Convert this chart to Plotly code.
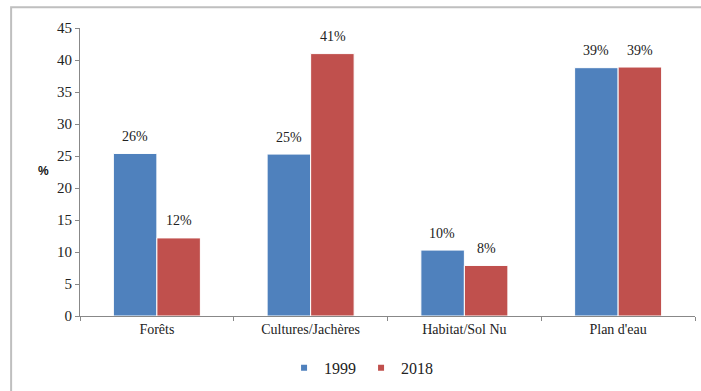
import plotly.graph_objects as go

categories = ["Forêts", "Cultures/Jachères", "Habitat/Sol Nu", "Plan d'eau"]
values_1999 = [25.4, 25.3, 10.3, 38.8]
values_2018 = [12.2, 41.0, 7.9, 38.9]
labels_1999 = ["26%", "25%", "10%", "39%"]
labels_2018 = ["12%", "41%", "8%", "39%"]
y_ticks = [0, 5, 10, 15, 20, 25, 30, 35, 40, 45]
series_names = ["1999", "2018"]

BLUE = "#4F81BD"
RED = "#C0504D"
FONT = "Liberation Serif"

fig = go.Figure()
fig.add_trace(go.Bar(x=categories, y=values_1999, name=series_names[0], showlegend=False,
                     marker=dict(color=BLUE, line=dict(color="white", width=1))))
fig.add_trace(go.Bar(x=categories, y=values_2018, name=series_names[1], showlegend=False,
                     marker=dict(color=RED, line=dict(color="white", width=1))))
# legend entries with small square markers
for nm, col in zip(series_names, [BLUE, RED]):
    fig.add_trace(go.Scatter(x=[None], y=[None], mode="markers", name=nm,
                             marker=dict(symbol="square", size=6, color=col)))

annotations = []
for c, v, t in zip(categories, values_1999, labels_1999):
    annotations.append(dict(x=c, y=v, text=t, xref="x", yref="y", showarrow=False,
                            xshift=-22, yshift=17, font=dict(family=FONT, size=14, color="#222")))
for c, v, t in zip(categories, values_2018, labels_2018):
    annotations.append(dict(x=c, y=v, text=t, xref="x", yref="y", showarrow=False,
                            xshift=22, yshift=17, font=dict(family=FONT, size=14, color="#222")))
annotations.append(dict(x=-0.072, y=0.505, xref="paper", yref="paper", text="<b>%</b>",
                        showarrow=False, font=dict(family="Liberation Sans", size=12, color="#111")))

fig.update_layout(
    width=701, height=391,
    margin=dict(l=80, r=6, t=28, b=72),
    paper_bgcolor="white", plot_bgcolor="white",
    barmode="group", bargap=0.434, bargroupgap=0,
    font=dict(family=FONT, size=14, color="#222"),
    showlegend=True,
    legend=dict(orientation="h", x=0.457, xanchor="center", y=-0.18, yanchor="middle",
                font=dict(family=FONT, size=16, color="#222"), itemwidth=30,
                tracegroupgap=0),
    annotations=annotations,
    shapes=[dict(type="rect", xref="paper", yref="paper",
                 x0=-0.112, x1=1.2, y0=-0.5, y1=1.072,
                 line=dict(color="#BFBFBF", width=2), fillcolor="rgba(0,0,0,0)")],
)
fig.update_yaxes(range=[0, 45], tickvals=y_ticks, showgrid=False, showline=True,
                 linecolor="#888", linewidth=1, ticks="outside", ticklen=4,
                 tickcolor="#888", zeroline=False, tickfont=dict(family=FONT, size=15))
fig.update_xaxes(showgrid=False, showline=True, linecolor="#888", linewidth=1,
                 ticks="outside", ticklen=4, tickcolor="#888", tickson="boundaries",
                 tickfont=dict(family=FONT, size=14))

fig.write_html("out.html")
